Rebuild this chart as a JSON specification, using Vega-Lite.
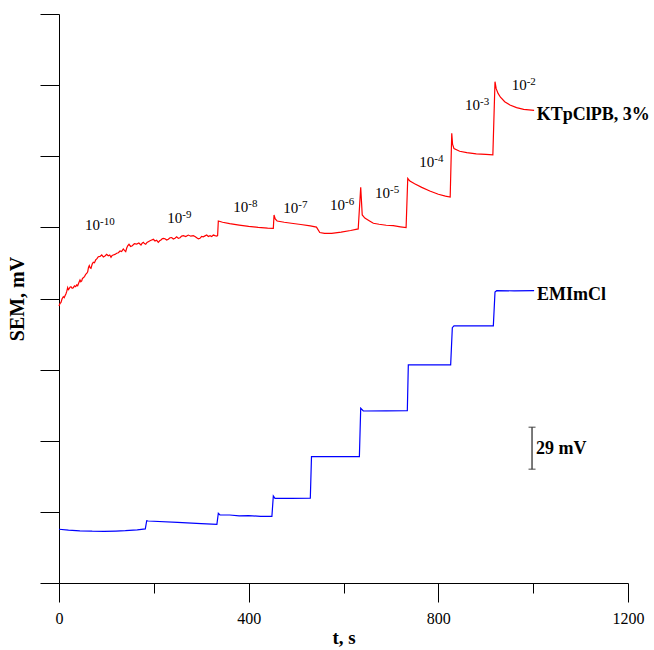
{
  "$schema": "https://vega.github.io/schema/vega-lite/v6.json",
  "width": 569,
  "height": 569,
  "autosize": {"type": "none"},
  "padding": {"left": 59, "top": 14, "right": 26, "bottom": 67},
  "background": "white",
  "config": {
    "view": {"stroke": null},
    "axis": {
      "labelFont": "Liberation Serif",
      "titleFont": "Liberation Serif",
      "domainColor": "black",
      "tickColor": "black",
      "labelColor": "black",
      "titleColor": "black",
      "grid": false
    }
  },
  "datasets": {
    "curves": [
      {"s": "red", "t": 0, "v": 194.7},
      {"s": "red", "t": 2, "v": 196.5},
      {"s": "red", "t": 4.2, "v": 197.3},
      {"s": "red", "t": 6.5, "v": 199.8},
      {"s": "red", "t": 9.1, "v": 201.3},
      {"s": "red", "t": 11, "v": 200.6},
      {"s": "red", "t": 12.7, "v": 202.0},
      {"s": "red", "t": 14.5, "v": 203.2},
      {"s": "red", "t": 16.2, "v": 204.8},
      {"s": "red", "t": 18.3, "v": 207.6},
      {"s": "red", "t": 19.8, "v": 206.2},
      {"s": "red", "t": 21.1, "v": 206.7},
      {"s": "red", "t": 23.2, "v": 207.9},
      {"s": "red", "t": 25.3, "v": 208.3},
      {"s": "red", "t": 27.7, "v": 207.2},
      {"s": "red", "t": 30.2, "v": 207.6},
      {"s": "red", "t": 32.7, "v": 208.9},
      {"s": "red", "t": 35.2, "v": 208.3},
      {"s": "red", "t": 37.3, "v": 209.5},
      {"s": "red", "t": 39.4, "v": 209.0},
      {"s": "red", "t": 42, "v": 211.2},
      {"s": "red", "t": 44.3, "v": 213.0},
      {"s": "red", "t": 46, "v": 211.8},
      {"s": "red", "t": 47.9, "v": 212.3},
      {"s": "red", "t": 49.5, "v": 214.1},
      {"s": "red", "t": 51.2, "v": 214.6},
      {"s": "red", "t": 53.8, "v": 215.4},
      {"s": "red", "t": 56.3, "v": 217.0},
      {"s": "red", "t": 58.4, "v": 217.6},
      {"s": "red", "t": 60.5, "v": 218.8},
      {"s": "red", "t": 62.2, "v": 221.8},
      {"s": "red", "t": 63.9, "v": 223.1},
      {"s": "red", "t": 65.7, "v": 221.6},
      {"s": "red", "t": 67.5, "v": 221.2},
      {"s": "red", "t": 70, "v": 224.2},
      {"s": "red", "t": 72.3, "v": 225.5},
      {"s": "red", "t": 74.8, "v": 225.1},
      {"s": "red", "t": 77.4, "v": 227.1},
      {"s": "red", "t": 80.1, "v": 228.0},
      {"s": "red", "t": 82.9, "v": 229.4},
      {"s": "red", "t": 86.5, "v": 229.6},
      {"s": "red", "t": 90.1, "v": 230.6},
      {"s": "red", "t": 93.5, "v": 229.2},
      {"s": "red", "t": 97.0, "v": 229.9},
      {"s": "red", "t": 100.5, "v": 231.0},
      {"s": "red", "t": 104.0, "v": 230.1},
      {"s": "red", "t": 107, "v": 230.6},
      {"s": "red", "t": 109.7, "v": 229.0},
      {"s": "red", "t": 112, "v": 230.2},
      {"s": "red", "t": 114.5, "v": 230.6},
      {"s": "red", "t": 118, "v": 231.0},
      {"s": "red", "t": 121.7, "v": 231.8},
      {"s": "red", "t": 125.2, "v": 232.2},
      {"s": "red", "t": 128.7, "v": 233.4},
      {"s": "red", "t": 132, "v": 233.0},
      {"s": "red", "t": 135.6, "v": 234.8},
      {"s": "red", "t": 138, "v": 233.8},
      {"s": "red", "t": 140.7, "v": 232.9},
      {"s": "red", "t": 142.8, "v": 235.5},
      {"s": "red", "t": 144.9, "v": 237.1},
      {"s": "red", "t": 147.6, "v": 238.1},
      {"s": "red", "t": 151, "v": 236.6},
      {"s": "red", "t": 154.6, "v": 237.1},
      {"s": "red", "t": 159, "v": 238.6},
      {"s": "red", "t": 163.9, "v": 238.3},
      {"s": "red", "t": 168.4, "v": 239.0},
      {"s": "red", "t": 172.9, "v": 237.6},
      {"s": "red", "t": 175.3, "v": 238.9},
      {"s": "red", "t": 177.8, "v": 239.5},
      {"s": "red", "t": 180.3, "v": 238.6},
      {"s": "red", "t": 182.9, "v": 238.1},
      {"s": "red", "t": 185.6, "v": 239.4},
      {"s": "red", "t": 188.3, "v": 239.9},
      {"s": "red", "t": 192, "v": 240.6},
      {"s": "red", "t": 195.5, "v": 241.1},
      {"s": "red", "t": 199, "v": 241.6},
      {"s": "red", "t": 202.5, "v": 240.4},
      {"s": "red", "t": 206, "v": 240.9},
      {"s": "red", "t": 209.4, "v": 239.5},
      {"s": "red", "t": 212.3, "v": 240.6},
      {"s": "red", "t": 215.1, "v": 241.1},
      {"s": "red", "t": 217.5, "v": 242.0},
      {"s": "red", "t": 220.0, "v": 242.3},
      {"s": "red", "t": 223.5, "v": 242.0},
      {"s": "red", "t": 227.1, "v": 241.1},
      {"s": "red", "t": 230.6, "v": 241.7},
      {"s": "red", "t": 234.1, "v": 242.7},
      {"s": "red", "t": 237.6, "v": 242.8},
      {"s": "red", "t": 241.1, "v": 241.8},
      {"s": "red", "t": 244.6, "v": 242.4},
      {"s": "red", "t": 248.2, "v": 243.4},
      {"s": "red", "t": 251.7, "v": 242.3},
      {"s": "red", "t": 255.2, "v": 242.7},
      {"s": "red", "t": 258.7, "v": 243.9},
      {"s": "red", "t": 262.2, "v": 244.2},
      {"s": "red", "t": 267.4, "v": 243.5},
      {"s": "red", "t": 272.7, "v": 244.6},
      {"s": "red", "t": 278, "v": 243.8},
      {"s": "red", "t": 283.2, "v": 244.2},
      {"s": "red", "t": 286.8, "v": 243.6},
      {"s": "red", "t": 290.4, "v": 242.7},
      {"s": "red", "t": 294, "v": 242.0},
      {"s": "red", "t": 297.4, "v": 242.3},
      {"s": "red", "t": 300.8, "v": 243.6},
      {"s": "red", "t": 304.3, "v": 243.4},
      {"s": "red", "t": 307.9, "v": 244.0},
      {"s": "red", "t": 311.5, "v": 244.6},
      {"s": "red", "t": 315, "v": 243.6},
      {"s": "red", "t": 318.5, "v": 244.2},
      {"s": "red", "t": 322, "v": 243.5},
      {"s": "red", "t": 325.4, "v": 244.6},
      {"s": "red", "t": 329, "v": 244.2},
      {"s": "red", "t": 332.6, "v": 243.9},
      {"s": "red", "t": 334.5, "v": 244.2},
      {"s": "red", "t": 336, "v": 254.5},
      {"s": "red", "t": 345, "v": 253.6},
      {"s": "red", "t": 360, "v": 252.6},
      {"s": "red", "t": 380, "v": 251.6},
      {"s": "red", "t": 400, "v": 250.7},
      {"s": "red", "t": 420, "v": 250},
      {"s": "red", "t": 440, "v": 249.5},
      {"s": "red", "t": 452, "v": 249.3},
      {"s": "red", "t": 453.5, "v": 258.7},
      {"s": "red", "t": 456, "v": 256},
      {"s": "red", "t": 460, "v": 254.5},
      {"s": "red", "t": 475, "v": 253.6},
      {"s": "red", "t": 490, "v": 252.9},
      {"s": "red", "t": 510, "v": 252},
      {"s": "red", "t": 530, "v": 251},
      {"s": "red", "t": 543, "v": 250.2},
      {"s": "red", "t": 550, "v": 246.4},
      {"s": "red", "t": 560, "v": 245.8},
      {"s": "red", "t": 575, "v": 245.8},
      {"s": "red", "t": 595, "v": 246.6},
      {"s": "red", "t": 615, "v": 247.8},
      {"s": "red", "t": 631, "v": 248.9},
      {"s": "red", "t": 636.3, "v": 278.2},
      {"s": "red", "t": 639.5, "v": 258.7},
      {"s": "red", "t": 645, "v": 256.5},
      {"s": "red", "t": 655, "v": 254.5},
      {"s": "red", "t": 663, "v": 252.9},
      {"s": "red", "t": 675, "v": 252.2},
      {"s": "red", "t": 690, "v": 251.5},
      {"s": "red", "t": 705, "v": 251.2},
      {"s": "red", "t": 720, "v": 250.4},
      {"s": "red", "t": 732, "v": 249.8},
      {"s": "red", "t": 735.5, "v": 284.5},
      {"s": "red", "t": 740, "v": 282.6},
      {"s": "red", "t": 750, "v": 280.6},
      {"s": "red", "t": 765, "v": 278.1},
      {"s": "red", "t": 782, "v": 275.6},
      {"s": "red", "t": 800, "v": 273.3},
      {"s": "red", "t": 815, "v": 272},
      {"s": "red", "t": 825, "v": 271.3},
      {"s": "red", "t": 828.3, "v": 316.1},
      {"s": "red", "t": 830, "v": 308.5},
      {"s": "red", "t": 833, "v": 305.4},
      {"s": "red", "t": 845, "v": 303.5},
      {"s": "red", "t": 860, "v": 302.5},
      {"s": "red", "t": 880, "v": 301.7},
      {"s": "red", "t": 900, "v": 301.3},
      {"s": "red", "t": 915, "v": 301},
      {"s": "red", "t": 919.5, "v": 352.4},
      {"s": "red", "t": 922, "v": 347.5},
      {"s": "red", "t": 926, "v": 344.2},
      {"s": "red", "t": 931, "v": 341.5},
      {"s": "red", "t": 940, "v": 338.3},
      {"s": "red", "t": 951, "v": 336},
      {"s": "red", "t": 965, "v": 334.2},
      {"s": "red", "t": 980, "v": 333},
      {"s": "red", "t": 1002, "v": 332.2},
      {"s": "blue", "t": 0, "v": 37.8},
      {"s": "blue", "t": 20, "v": 37.2},
      {"s": "blue", "t": 44, "v": 36.7},
      {"s": "blue", "t": 70, "v": 36.4},
      {"s": "blue", "t": 95, "v": 36.3},
      {"s": "blue", "t": 120, "v": 36.5},
      {"s": "blue", "t": 140, "v": 36.8},
      {"s": "blue", "t": 165, "v": 37.4},
      {"s": "blue", "t": 182, "v": 38},
      {"s": "blue", "t": 185, "v": 43.8},
      {"s": "blue", "t": 188, "v": 43.6},
      {"s": "blue", "t": 250, "v": 42.6},
      {"s": "blue", "t": 300, "v": 41.8},
      {"s": "blue", "t": 333, "v": 41.3},
      {"s": "blue", "t": 336, "v": 49},
      {"s": "blue", "t": 339.5, "v": 47.8},
      {"s": "blue", "t": 360, "v": 47.8},
      {"s": "blue", "t": 380, "v": 47.2},
      {"s": "blue", "t": 400, "v": 47.3},
      {"s": "blue", "t": 425, "v": 46.9},
      {"s": "blue", "t": 449, "v": 46.8},
      {"s": "blue", "t": 452, "v": 61.2},
      {"s": "blue", "t": 455.5, "v": 59.5},
      {"s": "blue", "t": 490, "v": 59.5},
      {"s": "blue", "t": 530, "v": 59.6},
      {"s": "blue", "t": 532.5, "v": 88.8},
      {"s": "blue", "t": 580, "v": 88.8},
      {"s": "blue", "t": 633.5, "v": 88.9},
      {"s": "blue", "t": 636.3, "v": 122.8},
      {"s": "blue", "t": 641.8, "v": 120.9},
      {"s": "blue", "t": 690, "v": 121},
      {"s": "blue", "t": 734.6, "v": 121.1},
      {"s": "blue", "t": 736.7, "v": 153.3},
      {"s": "blue", "t": 780, "v": 153.3},
      {"s": "blue", "t": 826, "v": 153.4},
      {"s": "blue", "t": 829.5, "v": 179.5},
      {"s": "blue", "t": 833, "v": 180.7},
      {"s": "blue", "t": 875, "v": 180.7},
      {"s": "blue", "t": 916, "v": 180.8},
      {"s": "blue", "t": 919.5, "v": 204.6},
      {"s": "blue", "t": 923, "v": 205.5},
      {"s": "blue", "t": 960, "v": 205.4},
      {"s": "blue", "t": 1002, "v": 205.5}
    ],
    "conc": [
      {"t": 54.8, "v": 248.2, "base": "10", "exp": "-10"},
      {"t": 228.4, "v": 253.3, "base": "10", "exp": "-9"},
      {"t": 367.6, "v": 260.6, "base": "10", "exp": "-8"},
      {"t": 473.0, "v": 260.1, "base": "10", "exp": "-7"},
      {"t": 571.5, "v": 262.2, "base": "10", "exp": "-6"},
      {"t": 666.4, "v": 270.4, "base": "10", "exp": "-5"},
      {"t": 759.9, "v": 292.7, "base": "10", "exp": "-4"},
      {"t": 856.3, "v": 332.5, "base": "10", "exp": "-3"},
      {"t": 954.7, "v": 346.6, "base": "10", "exp": "-2"}
    ],
    "names": [
      {"t": 1007.5, "v": 325.5, "label": "KTpClPB, 3%"},
      {"t": 1008.1, "v": 198.9, "label": "EMImCl"},
      {"t": 1006, "v": 90.5, "label": "29 mV"}
    ],
    "bar": [
      {"t": 997.6, "v": 80, "v2": 109.5}
    ],
    "caps": [
      {"t": 997.6, "v": 80},
      {"t": 997.6, "v": 109.5}
    ]
  },
  "layer": [
    {
      "data": {"name": "curves"},
      "mark": {"type": "line", "strokeWidth": 1.2, "interpolate": "linear"},
      "encoding": {
        "x": {
          "field": "t", "type": "quantitative",
          "scale": {"domain": [0, 1200], "nice": false},
          "axis": {
            "title": "t, s",
            "values": [0, 200, 400, 600, 800, 1000, 1200],
            "labelExpr": "datum.value % 400 === 0 ? datum.label : ''",
            "format": "d",
            "tickSize": {"condition": {"test": "datum.value % 400 === 0", "value": 19}, "value": 10},
            "labelPadding": 8,
            "labelFontSize": 16,
            "labelFlush": false,
            "titleFontSize": 19,
            "titleFontWeight": "bold",
            "titlePadding": 2
          }
        },
        "y": {
          "field": "v", "type": "quantitative",
          "scale": {"domain": [0, 400], "nice": false},
          "axis": {
            "title": "SEM, mV",
            "values": [0, 50, 100, 150, 200, 250, 300, 350, 400],
            "labels": false,
            "tickSize": 19,
            "titleFontSize": 20,
            "titleFontWeight": "bold",
            "titlePadding": 12
          }
        },
        "color": {
          "field": "s", "type": "nominal",
          "scale": {"domain": ["red", "blue"], "range": ["#ff0000", "#0000ff"]},
          "legend": null
        }
      }
    },
    {
      "data": {"name": "conc"},
      "mark": {"type": "text", "font": "Liberation Serif", "fontSize": 15, "align": "left", "baseline": "alphabetic", "color": "black"},
      "encoding": {
        "x": {"field": "t", "type": "quantitative"},
        "y": {"field": "v", "type": "quantitative"},
        "text": {"field": "base"}
      }
    },
    {
      "data": {"name": "conc"},
      "mark": {"type": "text", "font": "Liberation Serif", "fontSize": 11, "align": "left", "baseline": "alphabetic", "dx": 15, "dy": -5, "color": "black"},
      "encoding": {
        "x": {"field": "t", "type": "quantitative"},
        "y": {"field": "v", "type": "quantitative"},
        "text": {"field": "exp"}
      }
    },
    {
      "data": {"name": "names"},
      "mark": {"type": "text", "font": "Liberation Serif", "fontSize": 18, "fontWeight": "bold", "align": "left", "baseline": "alphabetic", "color": "black"},
      "encoding": {
        "x": {"field": "t", "type": "quantitative"},
        "y": {"field": "v", "type": "quantitative"},
        "text": {"field": "label"}
      }
    },
    {
      "data": {"name": "bar"},
      "mark": {"type": "rule", "color": "#333333", "strokeWidth": 1.3},
      "encoding": {
        "x": {"field": "t", "type": "quantitative"},
        "y": {"field": "v", "type": "quantitative"},
        "y2": {"field": "v2"}
      }
    },
    {
      "data": {"name": "caps"},
      "mark": {"type": "tick", "orient": "horizontal", "color": "#333333", "size": 7, "thickness": 1.3},
      "encoding": {
        "x": {"field": "t", "type": "quantitative"},
        "y": {"field": "v", "type": "quantitative"}
      }
    }
  ]
}
